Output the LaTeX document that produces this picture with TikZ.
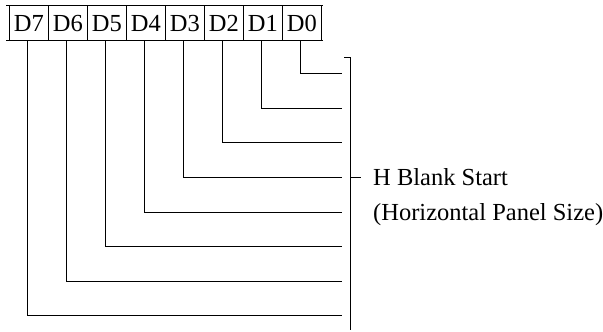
\documentclass[tikz,border=0pt]{standalone}
\usepackage{fontspec}
\setmainfont{Liberation Serif}
\usetikzlibrary{positioning}
\tikzset{
  cell/.style={draw,minimum width=19.5pt,minimum height=17.5pt,inner sep=0pt,outer sep=0pt},
  note/.style={anchor=base west,inner sep=0pt}
}

\begin{document}
\begin{tikzpicture}[x=0.5pt,y=-0.5pt,line width=0.5pt,font=\fontsize{12.25}{17.5}\selectfont]
\useasboundingbox (0,0) rectangle (603,331);
\node[cell] (D7) at (28.85,23.2) {D7};
\foreach \n [evaluate=\n as \p using int(\n+1)] in {6,5,...,0}
  \node[cell,right=0pt of D\p] (D\n) {D\n};
\draw ([xshift=-1.5pt]D7.north west) -- ([xshift=0.75pt]D0.north east);
\draw ([xshift=-1.5pt]D7.south west) -- ([xshift=0.75pt]D0.south east);
\foreach \n in {0,...,7} {
  \coordinate (e\n) at (341.7,74+34.5*\n);
  \draw ([xshift=-0.75pt]D\n.south) |- (e\n);
}
\coordinate (brtop) at (350.7,58);
\coordinate (brbot) at (350.7,330);
\coordinate (tick) at (361,177.3);
\draw ([xshift=-3.3pt]brtop) -- (brtop) -- (brbot);
\draw (brtop |- tick) -- (tick);
\node[note] (hbs) at (372.7,185) {H Blank Start};
\node[note] (hps) at (372.7,220) {(Horizontal Panel Size)};
\end{tikzpicture}
\end{document}
